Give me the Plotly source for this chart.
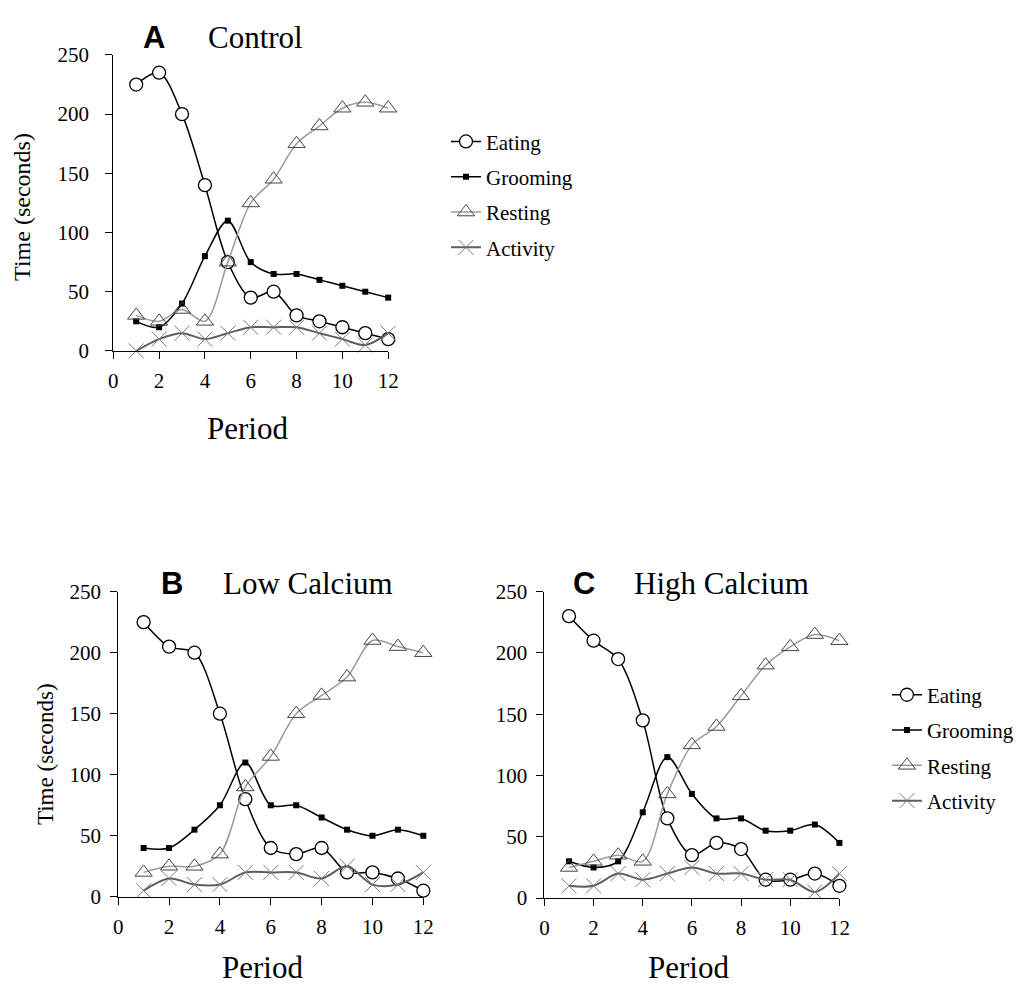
import plotly.graph_objects as go

# Time budget (seconds) per 12 observation periods for three diet groups
periods = list(range(1, 13))

control_eating = [225, 235, 200, 140, 75, 45, 50, 30, 25, 20, 15, 10]
control_grooming = [25, 20, 40, 80, 110, 75, 65, 65, 60, 55, 50, 45]
control_resting = [30, 25, 35, 25, 75, 125, 145, 175, 190, 205, 210, 205]
control_activity = [0, 10, 15, 10, 15, 20, 20, 20, 15, 10, 5, 15]

lowca_eating = [225, 205, 200, 150, 80, 40, 35, 40, 20, 20, 15, 5]
lowca_grooming = [40, 40, 55, 75, 110, 75, 75, 65, 55, 50, 55, 50]
lowca_resting = [20, 25, 25, 35, 90, 115, 150, 165, 180, 210, 205, 200]
lowca_activity = [5, 15, 10, 10, 20, 20, 20, 15, 25, 10, 10, 20]

highca_eating = [230, 210, 195, 145, 65, 35, 45, 40, 15, 15, 20, 10]
highca_grooming = [30, 25, 30, 70, 115, 85, 65, 65, 55, 55, 60, 45]
highca_resting = [25, 30, 35, 30, 85, 125, 140, 165, 190, 205, 215, 210]
highca_activity = [10, 10, 20, 15, 20, 25, 20, 20, 15, 15, 5, 20]

behaviours = ["Eating", "Grooming", "Resting", "Activity"]
panel_letters = ["A", "B", "C"]
panel_names = ["Control", "Low Calcium", "High Calcium"]
x_ticks = [0, 2, 4, 6, 8, 10, 12]
y_ticks = [0, 50, 100, 150, 200, 250]

panels = [
    [control_eating, control_grooming, control_resting, control_activity],
    [lowca_eating, lowca_grooming, lowca_resting, lowca_activity],
    [highca_eating, highca_grooming, highca_resting, highca_activity],
]

W, H = 1020, 994
SERIF = "Liberation Serif, Times New Roman, serif"
SANS = "Liberation Sans, Arial, sans-serif"


def fx(p):
    return p / W


def fy(p):
    return 1 - p / H


styles = {
    "Eating": dict(
        line=dict(color="black", width=1.5, shape="spline", smoothing=0.9),
        marker=dict(symbol="circle", size=13, color="white",
                    line=dict(color="black", width=1.3)),
    ),
    "Grooming": dict(
        line=dict(color="black", width=1.5, shape="spline", smoothing=0.9),
        marker=dict(symbol="square", size=6, color="black",
                    line=dict(color="black", width=0)),
    ),
    "Resting": dict(
        line=dict(color="#9a9a9a", width=1.5, shape="spline", smoothing=0.9),
        marker=dict(symbol="triangle-up-open", size=15, color="#444444",
                    line=dict(color="#444444", width=1)),
    ),
    "Activity": dict(
        line=dict(color="#5e5e5e", width=2, shape="spline", smoothing=0.9),
        marker=dict(symbol="x-thin-open", size=15, color="#7a7a7a",
                    line=dict(color="#7a7a7a", width=1)),
    ),
}

fig = go.Figure()

# pixel boxes of the three plot areas: (left, right, top, bottom)
boxes = [(110, 389.3, 44, 347.3), (115, 425, 594, 906.7), (548, 847.7, 594, 908)]
legend_for = ["legend", None, "legend2"]

for i, series in enumerate(panels):
    sfx = "" if i == 0 else str(i + 1)
    for name, vals in zip(behaviours, series):
        st = styles[name]
        show = legend_for[i] is not None
        fig.add_trace(go.Scatter(
            x=periods, y=vals, name=name, mode="lines+markers",
            line=st["line"], marker=st["marker"],
            xaxis="x" + sfx, yaxis="y" + sfx, cliponaxis=False,
            showlegend=show,
            legend=legend_for[i] if show else None,
            legendgroup=f"{panel_names[i]}-{name}",
        ))

layout = dict(
    width=W, height=H, margin=dict(l=0, r=0, t=0, b=0),
    paper_bgcolor="white", plot_bgcolor="white",
    font=dict(family=SERIF, color="black", size=21),
    annotations=[],
)

for i, (l, r, t, b) in enumerate(boxes):
    sfx = "" if i == 0 else str(i + 1)
    layout["xaxis" + sfx] = dict(
        domain=[fx(l), fx(r)], range=[0, 12], tickvals=x_ticks,
        showline=True, linecolor="black", linewidth=1,
        ticks="outside", ticklen=7, tickcolor="black", tickwidth=1,
        showgrid=False, zeroline=False, anchor="y" + sfx,
        tickfont=dict(family=SERIF, size=21, color="black"),
        ticklabelstandoff=4,
    )
    layout["yaxis" + sfx] = dict(
        domain=[fy(b), fy(t)], range=[0, 250], tickvals=y_ticks,
        showline=True, linecolor="black", linewidth=1,
        ticks="outside", ticklen=7, tickcolor="black", tickwidth=1,
        showgrid=False, zeroline=False, anchor="x" + sfx,
        tickfont=dict(family=SERIF, size=21, color="black"),
        ticklabelstandoff=12 if i == 0 else 5,
    )

ann = layout["annotations"]


def text(x, y, s, size, family=SERIF, angle=0, weight="normal"):
    ann.append(dict(
        x=fx(x), y=fy(y), xref="paper", yref="paper", text=s, showarrow=False,
        xanchor="center", yanchor="middle", textangle=angle,
        font=dict(family=family, size=size, color="black", weight=weight),
    ))


# panel headings
text(151, 26, panel_letters[0], 31, SANS, weight="bold")
text(254, 26, panel_names[0], 31)
text(170, 586, panel_letters[1], 31, SANS, weight="bold")
text(308, 586, panel_names[1], 31)
text(588, 586, panel_letters[2], 31, SANS, weight="bold")
text(728, 586, panel_names[2], 31)

# axis titles
text(246, 427, "Period", 31)
text(262, 979, "Period", 31)
text(694, 979, "Period", 31)
text(17, 200, "Time (seconds)", 24, angle=-90)
text(41, 760, "Time (seconds)", 23, angle=-90)

legend_common = dict(
    font=dict(family=SERIF, size=21, color="black"),
    bgcolor="rgba(0,0,0,0)", borderwidth=0,
    xanchor="left", yanchor="top", tracegroupgap=5,
    traceorder="grouped", itemclick=False, itemdoubleclick=False,
)
layout["legend"] = dict(x=fx(448), y=fy(112), **legend_common)
layout["legend2"] = dict(x=fx(896), y=fy(679), **legend_common)

fig.update_layout(**layout)
fig.write_html("out.html")
